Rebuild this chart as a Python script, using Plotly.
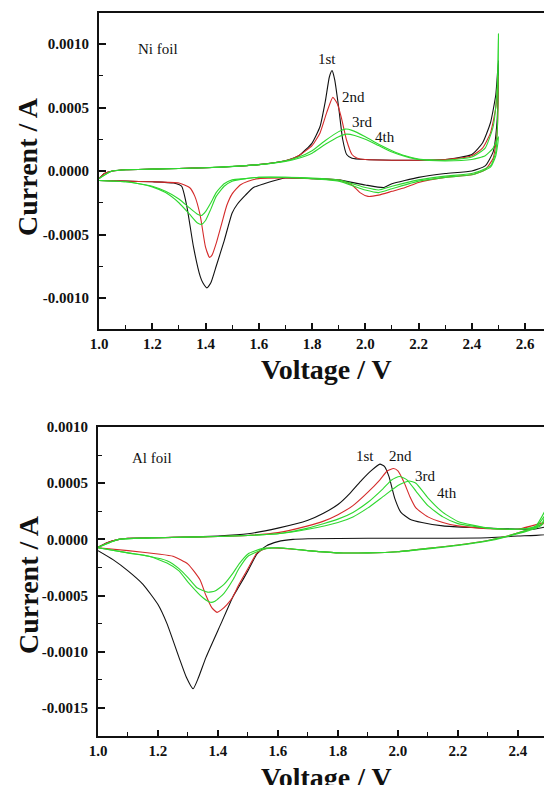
import plotly.graph_objects as go

# ---------------- Ni foil panel (voltage in V, current in A) ----------------
ni_1st_v = [1.0, 1.02, 1.05, 1.1, 1.2, 1.3, 1.4, 1.5, 1.6, 1.7, 1.75, 1.8, 1.83, 1.85, 1.865, 1.875, 1.885, 1.9, 1.915, 1.93, 1.95, 2.0, 2.1, 2.2, 2.3, 2.4, 2.44, 2.47, 2.49, 2.5,
            2.495, 2.48, 2.45, 2.4, 2.3, 2.2, 2.1, 2.07, 2.0, 1.9, 1.8, 1.7, 1.65, 1.62, 1.58, 1.55, 1.52, 1.5, 1.47, 1.44, 1.42, 1.405, 1.39, 1.38, 1.355, 1.33, 1.31, 1.28, 1.2, 1.1, 1.0]
ni_1st_i = [-0.6e-4, -0.2e-4, 0.0, 0.1e-4, 0.15e-4, 0.2e-4, 0.25e-4, 0.35e-4, 0.5e-4, 0.8e-4, 1.2e-4, 2.2e-4, 3.5e-4, 5.5e-4, 7.4e-4, 7.9e-4, 7.2e-4, 5.0e-4, 2.5e-4, 1.3e-4, 1.0e-4, 0.9e-4, 0.85e-4, 0.85e-4, 0.9e-4, 1.3e-4, 2.2e-4, 3.8e-4, 6.0e-4, 8.7e-4,
            4.0e-4, 1.5e-4, 0.4e-4, 0.0, -0.2e-4, -0.5e-4, -1.0e-4, -1.3e-4, -1.1e-4, -0.7e-4, -0.6e-4, -0.55e-4, -0.8e-4, -1.0e-4, -1.3e-4, -1.9e-4, -2.6e-4, -3.3e-4, -5.5e-4, -7.5e-4, -8.8e-4, -9.2e-4, -8.8e-4, -8.3e-4, -6.0e-4, -2.8e-4, -1.2e-4, -0.95e-4, -0.85e-4, -0.8e-4, -0.75e-4]

ni_2nd_v = [1.0, 1.02, 1.05, 1.1, 1.2, 1.3, 1.4, 1.5, 1.6, 1.7, 1.75, 1.8, 1.83, 1.855, 1.878, 1.895, 1.91, 1.93, 1.95, 1.97, 2.0, 2.1, 2.2, 2.3, 2.4, 2.44, 2.47, 2.49, 2.5,
            2.495, 2.48, 2.45, 2.4, 2.3, 2.2, 2.15, 2.1, 2.05, 2.01, 1.98, 1.95, 1.9, 1.8, 1.7, 1.6, 1.56, 1.53, 1.5, 1.48, 1.46, 1.44, 1.425, 1.415, 1.4, 1.38, 1.36, 1.34, 1.3, 1.2, 1.1, 1.0]
ni_2nd_i = [-0.6e-4, -0.2e-4, 0.0, 0.1e-4, 0.15e-4, 0.2e-4, 0.25e-4, 0.35e-4, 0.5e-4, 0.8e-4, 1.2e-4, 2.0e-4, 3.0e-4, 4.6e-4, 5.8e-4, 5.3e-4, 4.2e-4, 2.4e-4, 1.3e-4, 1.0e-4, 0.9e-4, 0.85e-4, 0.85e-4, 0.9e-4, 1.2e-4, 1.8e-4, 3.0e-4, 5.0e-4, 7.5e-4,
            3.0e-4, 1.0e-4, 0.1e-4, -0.3e-4, -0.5e-4, -0.9e-4, -1.3e-4, -1.6e-4, -1.9e-4, -2.0e-4, -1.7e-4, -1.1e-4, -0.7e-4, -0.6e-4, -0.55e-4, -0.6e-4, -0.8e-4, -1.1e-4, -1.8e-4, -2.7e-4, -4.2e-4, -5.7e-4, -6.6e-4, -6.8e-4, -6.0e-4, -3.5e-4, -2.0e-4, -1.3e-4, -0.95e-4, -0.85e-4, -0.8e-4, -0.75e-4]

ni_3rd_v = [1.0, 1.05, 1.2, 1.4, 1.6, 1.7, 1.75, 1.8, 1.85, 1.9, 1.925, 1.95, 2.0, 2.05, 2.1, 2.15, 2.2, 2.3, 2.4, 2.45, 2.48, 2.495, 2.5,
            2.497, 2.49, 2.47, 2.4, 2.3, 2.2, 2.1, 2.05, 2.0, 1.9, 1.8, 1.7, 1.6, 1.55, 1.5, 1.47, 1.44, 1.42, 1.4, 1.385, 1.37, 1.34, 1.3, 1.25, 1.2, 1.15, 1.1, 1.0]
ni_3rd_i = [-0.6e-4, 0.0, 0.15e-4, 0.25e-4, 0.5e-4, 0.8e-4, 1.1e-4, 1.6e-4, 2.4e-4, 3.1e-4, 3.3e-4, 3.2e-4, 2.7e-4, 2.1e-4, 1.6e-4, 1.2e-4, 0.95e-4, 0.85e-4, 1.1e-4, 1.8e-4, 3.5e-4, 6.5e-4, 10.8e-4,
            4.0e-4, 1.5e-4, 0.4e-4, -0.2e-4, -0.4e-4, -0.7e-4, -1.2e-4, -1.5e-4, -1.3e-4, -0.7e-4, -0.55e-4, -0.5e-4, -0.5e-4, -0.6e-4, -0.7e-4, -1.0e-4, -1.7e-4, -2.5e-4, -3.2e-4, -3.5e-4, -3.4e-4, -2.9e-4, -2.2e-4, -1.6e-4, -1.2e-4, -1.0e-4, -0.85e-4, -0.75e-4]

ni_4th_v = [1.0, 1.05, 1.2, 1.4, 1.6, 1.7, 1.75, 1.8, 1.85, 1.9, 1.93, 1.96, 2.0, 2.05, 2.1, 2.15, 2.2, 2.3, 2.4, 2.45, 2.48, 2.5,
            2.49, 2.47, 2.4, 2.3, 2.2, 2.1, 2.05, 2.0, 1.9, 1.8, 1.7, 1.6, 1.55, 1.5, 1.47, 1.44, 1.42, 1.4, 1.385, 1.37, 1.34, 1.3, 1.25, 1.2, 1.15, 1.1, 1.0]
ni_4th_i = [-0.6e-4, 0.0, 0.15e-4, 0.25e-4, 0.5e-4, 0.75e-4, 1.0e-4, 1.4e-4, 2.1e-4, 2.7e-4, 2.9e-4, 2.8e-4, 2.5e-4, 2.0e-4, 1.5e-4, 1.15e-4, 0.9e-4, 0.8e-4, 0.9e-4, 1.2e-4, 1.8e-4, 2.7e-4,
            1.2e-4, 0.3e-4, -0.3e-4, -0.5e-4, -0.8e-4, -1.4e-4, -1.7e-4, -1.5e-4, -0.8e-4, -0.6e-4, -0.5e-4, -0.5e-4, -0.6e-4, -0.8e-4, -1.2e-4, -2.0e-4, -3.0e-4, -3.9e-4, -4.2e-4, -4.1e-4, -3.4e-4, -2.5e-4, -1.7e-4, -1.25e-4, -1.0e-4, -0.85e-4, -0.75e-4]

# ---------------- Al foil panel ----------------
al_1st_v = [1.0, 1.03, 1.07, 1.1, 1.2, 1.3, 1.4, 1.5, 1.6, 1.7, 1.75, 1.8, 1.84, 1.88, 1.91, 1.94, 1.955, 1.97, 1.99, 2.01, 2.04, 2.08, 2.15, 2.25, 2.35, 2.45, 2.5,
            2.5, 2.4, 2.3, 2.1, 1.9, 1.7, 1.65, 1.6, 1.56, 1.53, 1.5, 1.47, 1.45, 1.41, 1.36, 1.335, 1.317, 1.295, 1.27, 1.23, 1.2, 1.15, 1.1, 1.05, 1.0]
al_1st_i = [-0.7e-4, -0.3e-4, 0.0, 0.1e-4, 0.15e-4, 0.2e-4, 0.3e-4, 0.5e-4, 1.0e-4, 1.7e-4, 2.3e-4, 3.1e-4, 4.1e-4, 5.3e-4, 6.1e-4, 6.7e-4, 6.5e-4, 5.6e-4, 3.6e-4, 2.4e-4, 1.8e-4, 1.5e-4, 1.2e-4, 1.05e-4, 0.95e-4, 0.9e-4, 1.1e-4,
            0.5e-4, 0.3e-4, 0.15e-4, 0.1e-4, 0.1e-4, 0.05e-4, 0.0, -0.2e-4, -0.6e-4, -1.3e-4, -2.8e-4, -4.2e-4, -5.1e-4, -7.5e-4, -10.5e-4, -12.3e-4, -13.3e-4, -12.3e-4, -10.5e-4, -7.5e-4, -5.8e-4, -4.0e-4, -2.8e-4, -1.8e-4, -1.0e-4]

al_2nd_v = [1.0, 1.03, 1.07, 1.1, 1.2, 1.3, 1.4, 1.5, 1.6, 1.7, 1.75, 1.8, 1.85, 1.9, 1.94, 1.965, 1.985, 2.0, 2.02, 2.04, 2.06, 2.1, 2.15, 2.2, 2.3, 2.4, 2.5,
            2.45, 2.35, 2.3, 2.2, 2.1, 2.0, 1.9, 1.8, 1.7, 1.62, 1.56, 1.53, 1.5, 1.47, 1.45, 1.43, 1.41, 1.397, 1.38, 1.36, 1.34, 1.3, 1.25, 1.2, 1.1, 1.0]
al_2nd_i = [-0.7e-4, -0.3e-4, 0.0, 0.1e-4, 0.15e-4, 0.2e-4, 0.25e-4, 0.35e-4, 0.6e-4, 1.2e-4, 1.6e-4, 2.2e-4, 3.0e-4, 4.2e-4, 5.3e-4, 6.1e-4, 6.3e-4, 6.1e-4, 5.1e-4, 3.8e-4, 2.8e-4, 2.0e-4, 1.5e-4, 1.2e-4, 0.95e-4, 0.9e-4, 1.6e-4,
            1.0e-4, 0.2e-4, -0.1e-4, -0.5e-4, -0.8e-4, -1.1e-4, -1.2e-4, -1.2e-4, -1.0e-4, -0.8e-4, -0.8e-4, -1.2e-4, -2.6e-4, -4.0e-4, -5.1e-4, -5.8e-4, -6.3e-4, -6.5e-4, -6.1e-4, -5.0e-4, -3.6e-4, -2.2e-4, -1.5e-4, -1.3e-4, -1.0e-4, -0.75e-4]

al_3rd_v = [1.0, 1.07, 1.2, 1.4, 1.5, 1.6, 1.7, 1.8, 1.85, 1.9, 1.95, 1.98, 2.005, 2.03, 2.06, 2.1, 2.15, 2.2, 2.3, 2.4, 2.46, 2.5,
            2.48, 2.45, 2.35, 2.3, 2.2, 2.1, 2.0, 1.9, 1.8, 1.7, 1.6, 1.55, 1.5, 1.47, 1.45, 1.42, 1.39, 1.365, 1.33, 1.3, 1.27, 1.23, 1.17, 1.1, 1.0]
al_3rd_i = [-0.7e-4, 0.0, 0.15e-4, 0.25e-4, 0.35e-4, 0.5e-4, 1.0e-4, 1.8e-4, 2.4e-4, 3.3e-4, 4.5e-4, 5.3e-4, 5.6e-4, 5.3e-4, 4.3e-4, 3.0e-4, 2.0e-4, 1.4e-4, 1.0e-4, 0.9e-4, 1.2e-4, 3.0e-4,
            1.4e-4, 1.0e-4, 0.2e-4, -0.1e-4, -0.5e-4, -0.8e-4, -1.1e-4, -1.2e-4, -1.2e-4, -1.0e-4, -0.75e-4, -0.8e-4, -1.3e-4, -2.2e-4, -3.0e-4, -4.0e-4, -4.6e-4, -4.7e-4, -4.3e-4, -3.4e-4, -2.6e-4, -1.9e-4, -1.5e-4, -1.2e-4, -0.75e-4]

al_4th_v = [1.0, 1.07, 1.2, 1.4, 1.5, 1.6, 1.7, 1.8, 1.85, 1.9, 1.95, 2.0, 2.037, 2.06, 2.1, 2.15, 2.2, 2.3, 2.4, 2.46, 2.5,
            2.48, 2.45, 2.35, 2.3, 2.2, 2.1, 2.0, 1.9, 1.8, 1.7, 1.6, 1.55, 1.5, 1.47, 1.45, 1.42, 1.39, 1.375, 1.35, 1.3, 1.27, 1.23, 1.17, 1.1, 1.0]
al_4th_i = [-0.7e-4, 0.0, 0.15e-4, 0.25e-4, 0.35e-4, 0.5e-4, 0.9e-4, 1.5e-4, 2.0e-4, 2.8e-4, 3.8e-4, 4.8e-4, 5.2e-4, 5.0e-4, 3.7e-4, 2.4e-4, 1.6e-4, 1.0e-4, 0.9e-4, 1.1e-4, 2.5e-4,
            1.3e-4, 0.9e-4, 0.15e-4, -0.15e-4, -0.55e-4, -0.85e-4, -1.1e-4, -1.2e-4, -1.2e-4, -1.0e-4, -0.75e-4, -0.9e-4, -1.5e-4, -2.6e-4, -3.6e-4, -4.8e-4, -5.5e-4, -5.6e-4, -5.2e-4, -3.8e-4, -2.8e-4, -2.1e-4, -1.5e-4, -1.2e-4, -0.75e-4]

cycle_colors = ["#111111", "#d42a2a", "#2fd82f", "#2fd82f"]
cycle_labels = ["1st", "2nd", "3rd", "4th"]

ni_x_ticks = [1.0, 1.2, 1.4, 1.6, 1.8, 2.0, 2.2, 2.4, 2.6]
ni_y_ticks = [0.0010, 0.0005, 0.0, -0.0005, -0.0010]
ni_y_ticktext = ["0.0010", "0.0005", "0.0000", "-0.0005", "-0.0010"]
al_x_ticks = [1.0, 1.2, 1.4, 1.6, 1.8, 2.0, 2.2, 2.4]
al_y_ticks = [0.0010, 0.0005, 0.0, -0.0005, -0.0010, -0.0015]
al_y_ticktext = ["0.0010", "0.0005", "0.0000", "-0.0005", "-0.0010", "-0.0015"]

# label positions (data coords)
ni_label_x = [1.856, 1.954, 1.988, 2.074]
ni_label_y = [8.8e-4, 5.8e-4, 3.86e-4, 2.68e-4]
al_label_x = [1.89, 2.007, 2.09, 2.163]
al_label_y = [7.46e-4, 7.46e-4, 5.68e-4, 4.17e-4]

W, H = 544, 785
FONT = "Liberation Serif, Times New Roman, serif"

fig = go.Figure()
ni_sets = [(ni_1st_v, ni_1st_i), (ni_2nd_v, ni_2nd_i), (ni_3rd_v, ni_3rd_i), (ni_4th_v, ni_4th_i)]
al_sets = [(al_1st_v, al_1st_i), (al_2nd_v, al_2nd_i), (al_3rd_v, al_3rd_i), (al_4th_v, al_4th_i)]
for k, (v, i) in enumerate(ni_sets):
    fig.add_trace(go.Scatter(x=v, y=i, mode="lines", line=dict(color=cycle_colors[k], width=1.1, shape="spline", smoothing=0.5),
                             xaxis="x", yaxis="y", showlegend=False, name=cycle_labels[k]))
for k, (v, i) in enumerate(al_sets):
    fig.add_trace(go.Scatter(x=v, y=i, mode="lines", line=dict(color=cycle_colors[k], width=1.1, shape="spline", smoothing=0.5),
                             xaxis="x2", yaxis="y2", showlegend=False, name=cycle_labels[k]))

def px_x(p):
    return p / W

def px_y(p):
    return 1 - p / H

tick_font = dict(family=FONT, size=15, color="#111", weight="bold")
minor_x = dict(dtick=0.1, tick0=1.0, ticks="inside", ticklen=4, tickwidth=1.3, tickcolor="#111")
minor_y = dict(dtick=0.00025, tick0=0, ticks="inside", ticklen=4, tickwidth=1.3, tickcolor="#111")
common_x = dict(showgrid=False, zeroline=False, showline=True, linecolor="#111", linewidth=2, mirror=True,
                ticks="inside", ticklen=6, tickwidth=1.5, tickcolor="#111", tickfont=tick_font, automargin=False,
                ticklabelstandoff=0)
common_y = dict(showgrid=False, zeroline=False, showline=True, linecolor="#111", linewidth=2, mirror=False,
                ticks="inside", ticklen=7, tickwidth=1.5, tickcolor="#111", tickfont=tick_font, automargin=False,
                ticklabelstandoff=5)

fig.update_layout(
    template="none",
    width=W, height=H, margin=dict(l=0, r=0, t=0, b=0, pad=0),
    paper_bgcolor="white", plot_bgcolor="white",
    xaxis=dict(common_x, domain=[px_x(99), 1.0], range=[1.0, 2.671], anchor="y",
               tickvals=ni_x_ticks, ticktext=[f"{t:.1f}" for t in ni_x_ticks], minor=minor_x),
    yaxis=dict(common_y, domain=[px_y(329), px_y(13)], range=[-0.001244, 0.001244], anchor="x",
               tickvals=ni_y_ticks, ticktext=ni_y_ticktext, minor=minor_y),
    xaxis2=dict(common_x, domain=[px_x(98), 1.0], range=[1.0, 2.487], anchor="y2",
                tickvals=al_x_ticks, ticktext=[f"{t:.1f}" for t in al_x_ticks], minor=minor_x),
    yaxis2=dict(common_y, domain=[px_y(736), px_y(427)], range=[-0.00175, 0.0010], anchor="x2",
                tickvals=al_y_ticks, ticktext=al_y_ticktext, minor=minor_y),
)

annos = []
title_font = dict(family=FONT, size=28, color="#111", weight="bold")
annos.append(dict(text="Current / A", xref="paper", yref="paper", x=px_x(28), y=px_y(167), textangle=-90,
                  showarrow=False, font=title_font, xanchor="center", yanchor="middle"))
annos.append(dict(text="Voltage / V", xref="paper", yref="paper", x=px_x(326), y=px_y(369),
                  showarrow=False, font=title_font, xanchor="center", yanchor="middle"))
annos.append(dict(text="Current / A", xref="paper", yref="paper", x=px_x(28), y=px_y(585), textangle=-90,
                  showarrow=False, font=title_font, xanchor="center", yanchor="middle"))
annos.append(dict(text="Voltage / V", xref="paper", yref="paper", x=px_x(326), y=px_y(777),
                  showarrow=False, font=title_font, xanchor="center", yanchor="middle"))

lab_font = dict(family=FONT, size=15, color="#111")
annos.append(dict(text="Ni foil", xref="x", yref="y", x=1.222, y=9.6e-4, showarrow=False, font=lab_font))
annos.append(dict(text="Al foil", xref="x2", yref="y2", x=1.18, y=7.28e-4, showarrow=False, font=lab_font))
for k in range(4):
    annos.append(dict(text=cycle_labels[k], xref="x", yref="y", x=ni_label_x[k], y=ni_label_y[k],
                      showarrow=False, font=lab_font))
    annos.append(dict(text=cycle_labels[k], xref="x2", yref="y2", x=al_label_x[k], y=al_label_y[k],
                      showarrow=False, font=lab_font))
fig.update_layout(annotations=annos)

fig.write_html("out.html")
